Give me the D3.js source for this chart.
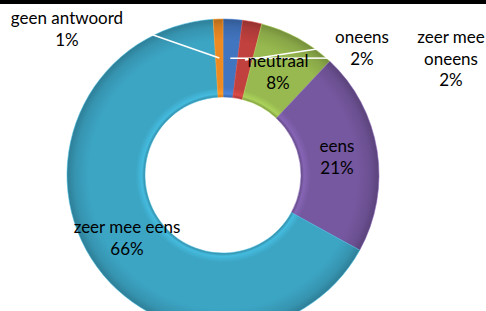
<!DOCTYPE html>
<html>
<head>
<meta charset="utf-8">
<script src="https://cdn.jsdelivr.net/npm/d3@7"></script>
<style>
  html, body { margin: 0; padding: 0; background: #fff; }
  svg { display: block; }
  text { font-family: Lato, "Open Sans", sans-serif; font-size: 17px; fill: #000; }
</style>
</head>
<body>
<div id="vis"></div>
<script>
// data, clockwise from the top
var categories = ["zeer mee oneens", "oneens", "neutraal", "eens", "zeer mee eens", "geen antwoord"];
var values = [2, 2, 8, 21, 66, 1];
var pctLabels = ["2%", "2%", "8%", "21%", "66%", "1%"];
var colors = ["#4275c0", "#c1413e", "#97b94f", "#7658a0", "#3ca5c4", "#ee8a22"];

// label lines (split names) and where they sit
var nameLines = [["zeer mee", "oneens"], ["oneens"], ["neutraal"], ["eens"], ["zeer mee eens"], ["geen antwoord"]];
var labelAt = [[451, 43], [362, 43], [278, 67], [337, 152], [127, 233], [67, 24]];
var leaderEnd = [[410, 58], [330, 47], null, null, null, [133, 28]];

var W = 486, H = 311;
var cx = 223, cy = 175, R = 156, r0 = 78;

var svg = d3.select("#vis").append("svg")
  .attr("width", W).attr("height", H);

// black strip along the top
svg.append("rect").attr("x", 0).attr("y", 0).attr("width", W).attr("height", 4).attr("fill", "#000");

var defs = svg.append("defs");

// bevel look: dark at both rims, a soft light band near the hole
colors.forEach(function(c, i) {
  var base = d3.color(c);
  var g = defs.append("radialGradient")
    .attr("id", "bev" + i)
    .attr("gradientUnits", "userSpaceOnUse")
    .attr("cx", 0).attr("cy", 0).attr("r", R);
  var stops = [
    [r0 / R, base.darker(0.5)],
    [r0 / R + 0.02, base.brighter(0.35)],
    [r0 / R + 0.06, base],
    [0.86, base],
    [0.95, base.darker(0.3)],
    [1, base.darker(0.75)]
  ];
  stops.forEach(function(s) {
    g.append("stop").attr("offset", s[0]).attr("stop-color", s[1].formatHex());
  });
});

var pie = d3.pie().sort(null).value(function(d) { return d; });
var arc = d3.arc().innerRadius(r0).outerRadius(R);
var midArc = d3.arc().innerRadius(117).outerRadius(117);

var arcs = pie(values);

var g = svg.append("g").attr("transform", "translate(" + cx + "," + cy + ")");

g.selectAll("path.slice")
  .data(arcs)
  .enter().append("path")
  .attr("class", "slice")
  .attr("d", arc)
  .attr("fill", function(d, i) { return "url(#bev" + i + ")"; })
  .attr("stroke", function(d, i) { return d3.color(colors[i]).brighter(0.4).formatHex(); })
  .attr("stroke-width", 0.8)
  .attr("stroke-opacity", 0.7);

// leader lines (white)
arcs.forEach(function(d, i) {
  if (!leaderEnd[i]) return;
  var p = midArc.centroid(d);
  g.append("line")
    .attr("x1", p[0]).attr("y1", p[1])
    .attr("x2", leaderEnd[i][0] - cx).attr("y2", leaderEnd[i][1] - cy)
    .attr("stroke", "#fff").attr("stroke-width", 1.6);
});

// labels
var lab = svg.append("g");
categories.forEach(function(c, i) {
  var lines = nameLines[i].concat([pctLabels[i]]);
  var t = lab.append("text")
    .attr("text-anchor", "middle")
    .attr("x", labelAt[i][0]).attr("y", labelAt[i][1]);
  lines.forEach(function(s, k) {
    t.append("tspan").attr("x", labelAt[i][0]).attr("dy", k === 0 ? 0 : 21.5).text(s);
  });
});
</script>
</body>
</html>
